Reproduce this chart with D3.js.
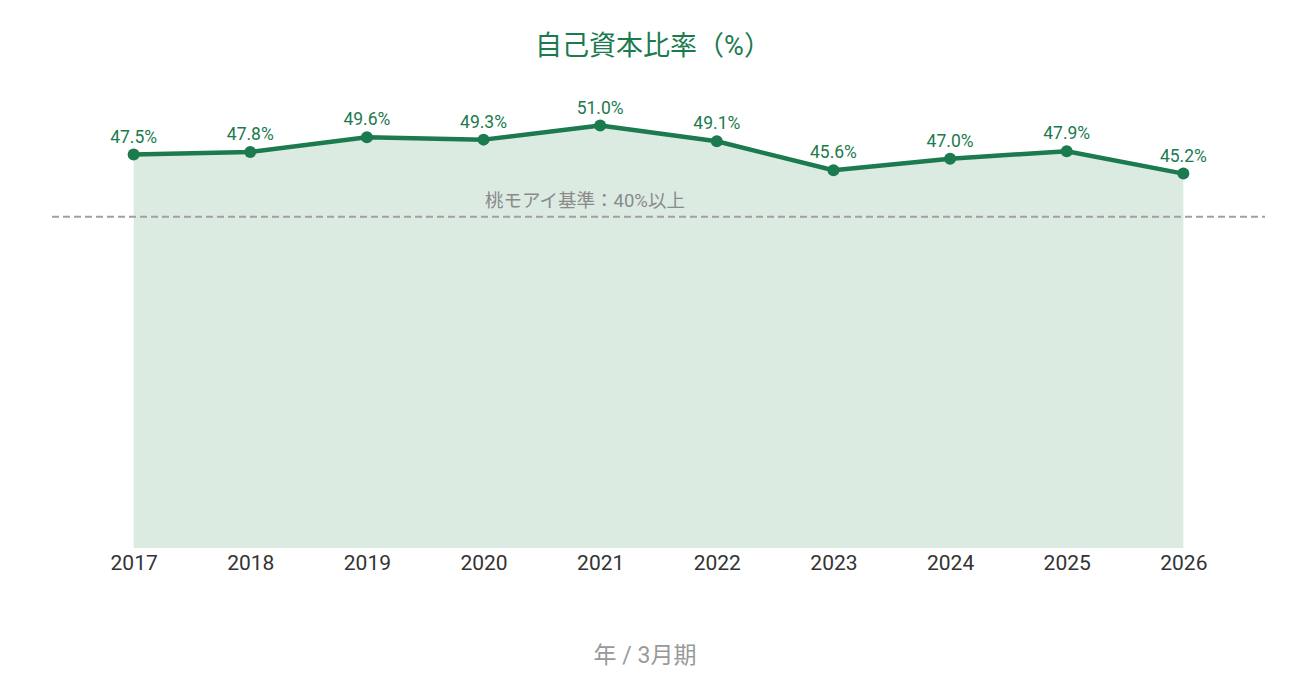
<!DOCTYPE html>
<html lang="ja">
<head>
  <meta charset="UTF-8">
  <title>自己資本比率</title>
  <script src="https://d3js.org/d3.v7.min.js"></script>
  <style>
    body {
      margin: 0;
      background: #fff;
    }
    svg {
      font-family: Roboto, "Noto Sans CJK JP", sans-serif;
    }
    .value-label { font-size: 17.5px; fill: #1b7a4e; }
    .tick-label { font-size: 21px; fill: #333; }
  </style>
</head>
<body>
  <svg width="1290" height="675"></svg>
  <script>
    const years = ["2017", "2018", "2019", "2020", "2021", "2022", "2023", "2024", "2025", "2026"];
    const ratios = [47.5, 47.8, 49.6, 49.3, 51.0, 49.1, 45.6, 47.0, 47.9, 45.2];
    const threshold = 40;
    const thresholdLabel = "桃モアイ基準：40%以上";

    const data = years.map((y, i) => ({ year: y, value: ratios[i] }));

    const svg = d3.select("svg");
    const green = "#1b7a4e";

    const x = d3.scalePoint()
      .domain(years)
      .range([52, 1265])
      .padding(0.7);

    const y = d3.scaleLinear()
      .domain([0, 60])
      .range([548, 51]);

    // title
    svg.append("text")
      .attr("x", 653)
      .attr("y", 55)
      .attr("text-anchor", "middle")
      .attr("font-size", 27)
      .attr("fill", green)
      .text("自己資本比率（%）");

    // area
    const area = d3.area()
      .x(d => x(d.year))
      .y0(y(0))
      .y1(d => y(d.value));

    svg.append("path")
      .datum(data)
      .attr("d", area)
      .attr("fill", "#dcebe2");

    // threshold line
    svg.append("line")
      .attr("x1", 52)
      .attr("x2", 1265)
      .attr("y1", y(threshold))
      .attr("y2", y(threshold))
      .attr("stroke", "#a0a0a0")
      .attr("stroke-width", 2)
      .attr("stroke-dasharray", "7,4");

    svg.append("text")
      .attr("x", 485)
      .attr("y", y(threshold) - 10)
      .attr("font-size", 18.5)
      .attr("fill", "#8a8a8a")
      .text(thresholdLabel);

    // line
    const line = d3.line()
      .x(d => x(d.year))
      .y(d => y(d.value));

    svg.append("path")
      .datum(data)
      .attr("d", line)
      .attr("fill", "none")
      .attr("stroke", green)
      .attr("stroke-width", 4.5)
      .attr("stroke-linejoin", "round");

    svg.append("g")
      .selectAll("circle")
      .data(data)
      .enter().append("circle")
      .attr("cx", d => x(d.year))
      .attr("cy", d => y(d.value))
      .attr("r", 6)
      .attr("fill", green);

    svg.append("g")
      .selectAll("text")
      .data(data)
      .enter().append("text")
      .attr("class", "value-label")
      .attr("x", d => x(d.year))
      .attr("y", d => y(d.value) - 12)
      .attr("text-anchor", "middle")
      .text(d => d.value.toFixed(1) + "%");

    // x axis
    const xAxis = svg.append("g")
      .attr("transform", `translate(0,${y(0)})`)
      .call(d3.axisBottom(x).tickSize(0).tickPadding(7));
    xAxis.attr("font-family", null).attr("font-size", null);
    xAxis.select(".domain").remove();
    xAxis.selectAll("text")
      .attr("class", "tick-label")
      .attr("fill", null);

    svg.append("text")
      .attr("x", 645)
      .attr("y", 663)
      .attr("text-anchor", "middle")
      .attr("font-size", 23)
      .attr("fill", "#999")
      .text("年 / 3月期");
  </script>
</body>
</html>
